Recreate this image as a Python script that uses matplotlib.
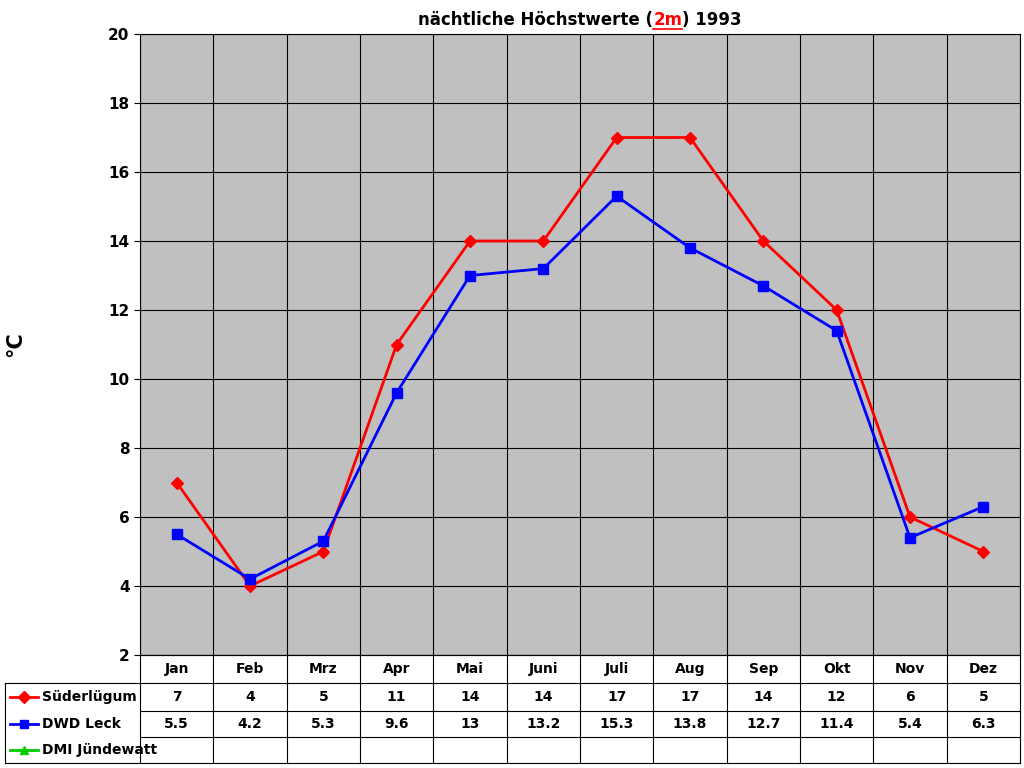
import matplotlib
matplotlib.use("Agg")
import matplotlib.pyplot as plt
from matplotlib.lines import Line2D
from matplotlib.transforms import blended_transform_factory as btf

months = ["Jan","Feb","Mrz","Apr","Mai","Juni","Juli","Aug","Sep","Okt","Nov","Dez"]
suederluegum = [7,4,5,11,14,14,17,17,14,12,6,5]
dwd_leck = [5.5,4.2,5.3,9.6,13,13.2,15.3,13.8,12.7,11.4,5.4,6.3]
dmi = [None]*12
series_names = ["Süderlügum","DWD Leck","DMI Jündewatt"]

fig = plt.figure(figsize=(10.24,7.68), dpi=100)
ax = fig.add_axes([140/1024, 113/768, 880/1024, 621/768])
ax.set_facecolor("#c0c0c0")
x = [i+0.5 for i in range(12)]
ax.plot(x, suederluegum, color="#ff0000", lw=2, marker="D", ms=6)
ax.plot(x, dwd_leck, color="#0000ff", lw=2, marker="s", ms=7)
ax.set_xlim(0,12); ax.set_ylim(2,20)
ax.set_yticks(range(2,21,2))
ax.set_xticks(range(13)); ax.set_xticklabels([])
ax.tick_params(axis="x", length=0)
ax.tick_params(axis="y", labelsize=11, length=4)
for l in ax.get_yticklabels(): l.set_fontweight("bold")
ax.grid(True, color="black", lw=0.8)
for s in ax.spines.values(): s.set_color("black")
ax.set_ylabel("°C", fontsize=15, fontweight="bold", labelpad=60)

# table
tr = btf(ax.transData, fig.transFigure)
rows_y = [655,683,711,737,763]
fy = lambda p: 1-p/768
for y in rows_y:
    fig.add_artist(Line2D([0,12],[fy(y)]*2, transform=tr, color="black", lw=0.8))
fig.add_artist(Line2D([5/1024,140/1024],[fy(683)]*2, color="black", lw=0.8))
fig.add_artist(Line2D([5/1024,140/1024],[fy(763)]*2, color="black", lw=0.8))
fig.add_artist(Line2D([5/1024]*2,[fy(683),fy(763)], color="black", lw=0.8))
for i in range(13):
    fig.add_artist(Line2D([i,i],[fy(655),fy(763)], transform=tr, color="black", lw=0.8))
for i,m in enumerate(months):
    fig.text(i+0.5, fy(669), m, transform=tr, ha="center", va="center", fontsize=10, fontweight="bold")
    fig.text(i+0.5, fy(697), str(suederluegum[i]), transform=tr, ha="center", va="center", fontsize=10, fontweight="bold")
    fig.text(i+0.5, fy(724), str(dwd_leck[i]), transform=tr, ha="center", va="center", fontsize=10, fontweight="bold")
cols = ["#ff0000","#0000ff","#00cc00"]; mk = ["D","s","^"]
for j,(n,yy) in enumerate(zip(series_names,[697,724,750])):
    fig.add_artist(Line2D([10/1024,38/1024],[fy(yy)]*2, color=cols[j], lw=2))
    fig.add_artist(Line2D([24/1024],[fy(yy)], color=cols[j], marker=mk[j], ms=6))
    fig.text(42/1024, fy(yy), n, ha="left", va="center", fontsize=10, fontweight="bold")

# title
fig.canvas.draw()
r = fig.canvas.get_renderer()
parts = [("nächtliche Höchstwerte (", "black", False), ("2m", "red", True), (") 1993", "black", False)]
texts=[]; widths=[]
for s,c,u in parts:
    t = fig.text(0,fy(20),s,color=c,fontsize=12,fontweight="bold",va="center")
    texts.append(t); widths.append(t.get_window_extent(r).width)
xstart = 0.5*(140+1020) - sum(widths)/2
xx = xstart
for t,w,(s,c,u) in zip(texts,widths,parts):
    t.set_x(xx/1024)
    if u:
        fig.add_artist(Line2D([xx/1024,(xx+w)/1024],[fy(29)]*2,color="red",lw=1.2))
    xx += w
fig.savefig("out.png", dpi=100)
